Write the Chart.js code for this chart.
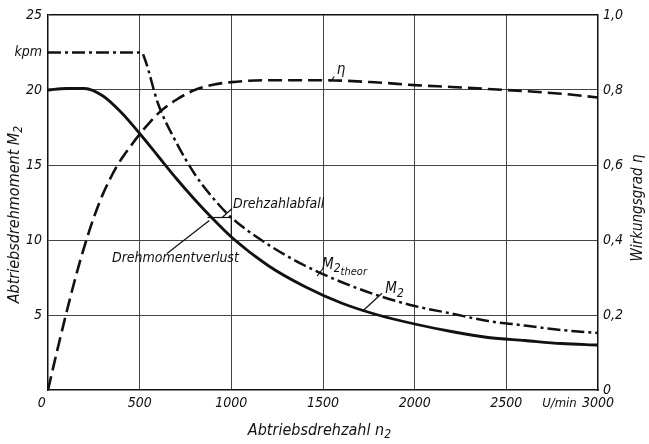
<!DOCTYPE html>
<html>
<head>
<meta charset="utf-8">
<script src="https://cdn.jsdelivr.net/npm/chart.js@4.4.1/dist/chart.umd.min.js"></script>
<style>
  html, body { margin: 0; padding: 0; background: #fff; }
  #wrap { width: 649px; height: 444px; }
</style>
</head>
<body>
<div id="wrap"><canvas id="chart" width="649" height="444"></canvas></div>
<script>
// ticks
const speedTicks = [0, 500, 1000, 1500, 2000, 2500, 3000];
const torqueTicks = [0, 5, 10, 15, 20, 22.5, 25];
const etaTicks = [0, 0.2, 0.4, 0.6, 0.8, 1.0];

// M2 (solid)
const nM2 = [0, 100, 200, 300, 400, 500, 600, 700, 800, 900, 1000, 1200, 1400, 1600, 1800, 2000, 2200, 2400, 2600, 2800, 3000];
const m2 = [20.0, 20.1, 20.1, 19.6, 18.5, 17.1, 15.6, 14.1, 12.7, 11.4, 10.2, 8.3, 6.9, 5.8, 5.0, 4.4, 3.9, 3.5, 3.3, 3.1, 3.0];

// M2 theor (dash-dot)
const nTheor = [0, 250, 510, 530, 600, 700, 800, 900, 1000, 1200, 1400, 1600, 1800, 2000, 2200, 2400, 2600, 2800, 3000];
const m2Theor = [22.5, 22.5, 22.5, 22.0, 19.1, 16.5, 14.4, 12.8, 11.5, 9.7, 8.3, 7.2, 6.3, 5.6, 5.1, 4.6, 4.3, 4.0, 3.8];

// Wirkungsgrad eta (dashed)
const nEta = [0, 50, 100, 150, 200, 250, 300, 375, 450, 500, 600, 700, 800, 900, 1000, 1200, 1500, 1800, 2000, 2200, 2500, 2800, 3000];
const eta = [0, 0.105, 0.205, 0.3, 0.385, 0.46, 0.523, 0.596, 0.65, 0.682, 0.737, 0.774, 0.8, 0.814, 0.821, 0.826, 0.826, 0.82, 0.813, 0.808, 0.8, 0.79, 0.78];

const FONT = "'Liberation Sans Narrow', 'DejaVu Sans Condensed', sans-serif";

function pts(xs, ys) {
  return xs.map((x, i) => ({ x: x, y: ys[i] }));
}

function subText(ctx, x, y, parts) {
  // parts: [text, size, dy]
  let cx = x;
  parts.forEach(p => {
    ctx.font = 'italic ' + p[1] + 'px ' + FONT;
    ctx.fillText(p[0], cx, y + p[2]);
    cx += ctx.measureText(p[0]).width;
  });
}

const annotations = {
  id: 'annotations',
  afterDraw(chart) {
    const ctx = chart.ctx;
    const xs = chart.scales.x, ys = chart.scales.y;
    const X = v => xs.getPixelForValue(v);
    const Y = v => ys.getPixelForValue(v);
    const line = (a, b, c, d) => {
      ctx.beginPath();
      ctx.moveTo(X(a), Y(b));
      ctx.lineTo(X(c), Y(d));
      ctx.stroke();
    };
    ctx.save();
    ctx.fillStyle = '#111';
    ctx.strokeStyle = '#111';
    ctx.lineWidth = 1.2;
    ctx.textBaseline = 'middle';
    ctx.textAlign = 'left';

    // eta label
    subText(ctx, X(1575), Y(21.3), [['\u03B7', 15, 0]]);
    line(1562, 20.9, 1540, 20.55);

    // Drehzahlabfall / Drehmomentverlust
    ctx.font = 'italic 14px ' + FONT;
    ctx.fillText('Drehzahlabfall', X(1009), Y(12.35));
    line(1004, 12.1, 950, 11.5);
    line(870, 11.5, 1000, 11.5);
    line(1000, 11.5, 1000, 10.2);
    ctx.font = 'italic 14px ' + FONT;
    ctx.fillText('Drehmomentverlust', X(349), Y(8.8));
    line(649, 9.1, 880, 11.3);

    // M2 theor
    subText(ctx, X(1495), Y(8.35), [['M', 15, 0], ['2', 12, 4], ['theor', 11, 7]]);
    line(1500, 8.1, 1468, 7.6);

    // M2
    subText(ctx, X(1840), Y(6.7), [['M', 15, 0], ['2', 12, 4]]);
    line(1822, 6.45, 1715, 5.25);

    // unit on x axis
    ctx.font = 'italic 13px ' + FONT;
    ctx.textAlign = 'center';
    ctx.fillText('U/min', X(2790), 404);

    // axis titles
    ctx.textAlign = 'left';
    ctx.save();
    ctx.translate(15, 214);
    ctx.rotate(-Math.PI / 2);
    ctx.font = 'italic 16px ' + FONT;
    const lt = ctx.measureText('Abtriebsdrehmoment M').width + 8;
    subText(ctx, -lt / 2, 0, [['Abtriebsdrehmoment M', 16, 0], ['2', 12, 4]]);
    ctx.restore();

    ctx.save();
    ctx.translate(638, 208);
    ctx.rotate(-Math.PI / 2);
    ctx.font = 'italic 15px ' + FONT;
    ctx.textAlign = 'center';
    ctx.fillText('Wirkungsgrad \u03B7', 0, 0);
    ctx.restore();

    ctx.font = 'italic 16px ' + FONT;
    const bt = ctx.measureText('Abtriebsdrehzahl n').width + 8;
    subText(ctx, 320 - bt / 2, 431, [['Abtriebsdrehzahl n', 16, 0], ['2', 12, 4]]);
    ctx.restore();
  }
};

const ctx = document.getElementById('chart').getContext('2d');
const chart = new Chart(ctx, {
  type: 'scatter',
  data: {
    datasets: [
      {
        label: 'M2',
        data: pts(nM2, m2),
        yAxisID: 'y',
        showLine: true,
        borderColor: '#111',
        borderWidth: 2.8,
        pointRadius: 0,
        cubicInterpolationMode: 'monotone'
      },
      {
        label: 'M2 theor',
        data: pts(nTheor, m2Theor),
        yAxisID: 'y',
        showLine: true,
        borderColor: '#111',
        borderWidth: 2.5,
        borderDash: [13, 4, 3, 4],
        pointRadius: 0,
        cubicInterpolationMode: 'monotone'
      },
      {
        label: 'eta',
        data: pts(nEta, eta),
        yAxisID: 'y1',
        showLine: true,
        borderColor: '#111',
        borderWidth: 2.6,
        borderDash: [14, 6],
        pointRadius: 0,
        cubicInterpolationMode: 'monotone'
      }
    ]
  },
  options: {
    responsive: false,
    animation: false,
    devicePixelRatio: 1,
    layout: { padding: { top: 15, left: 0, right: 0, bottom: 0 } },
    plugins: {
      legend: { display: false },
      tooltip: { enabled: false }
    },
    scales: {
      x: {
        type: 'linear',
        min: 0,
        max: 3000,
        afterBuildTicks: axis => { axis.ticks = speedTicks.map(v => ({ value: v })); },
        afterFit: axis => { axis.height = 54; },
        ticks: {
          padding: 5,
          color: '#111',
          font: { family: FONT, size: 14, style: 'italic' },
          callback: v => v === 0 ? '0\u2002\u2002' : String(v)
        },
        grid: {
          drawTicks: false,
          lineWidth: 1,
          color: c => (c.tick && (c.tick.value === 0 || c.tick.value === 3000)) ? 'rgba(0,0,0,0)' : '#444'
        },
        border: { display: true, color: '#111', width: 1.5 }
      },
      y: {
        position: 'left',
        min: 0,
        max: 25,
        afterBuildTicks: axis => { axis.ticks = torqueTicks.map(v => ({ value: v })); },
        afterFit: axis => { axis.width = 48; },
        ticks: {
          padding: 6,
          color: '#111',
          font: { family: FONT, size: 14, style: 'italic' },
          callback: v => v === 22.5 ? 'kpm' : (v === 0 ? '' : String(v))
        },
        grid: {
          drawTicks: false,
          lineWidth: c => (c.tick && c.tick.value === 25) ? 1.5 : 1,
          color: c => {
            if (!c.tick) return 'rgba(0,0,0,0)';
            const v = c.tick.value;
            if (v === 25) return '#111';
            return (v === 0 || v === 22.5) ? 'rgba(0,0,0,0)' : '#444';
          }
        },
        border: { display: true, color: '#111', width: 1.5 }
      },
      y1: {
        position: 'right',
        min: 0,
        max: 1,
        afterBuildTicks: axis => { axis.ticks = etaTicks.map(v => ({ value: v })); },
        afterFit: axis => { axis.width = 51; },
        ticks: {
          padding: 5,
          color: '#111',
          font: { family: FONT, size: 14, style: 'italic' },
          callback: v => v === 0 ? '0' : v.toFixed(1).replace('.', ',')
        },
        grid: { drawOnChartArea: false, drawTicks: false },
        border: { display: true, color: '#111', width: 1.5 }
      }
    }
  },
  plugins: [annotations]
});
</script>
</body>
</html>
